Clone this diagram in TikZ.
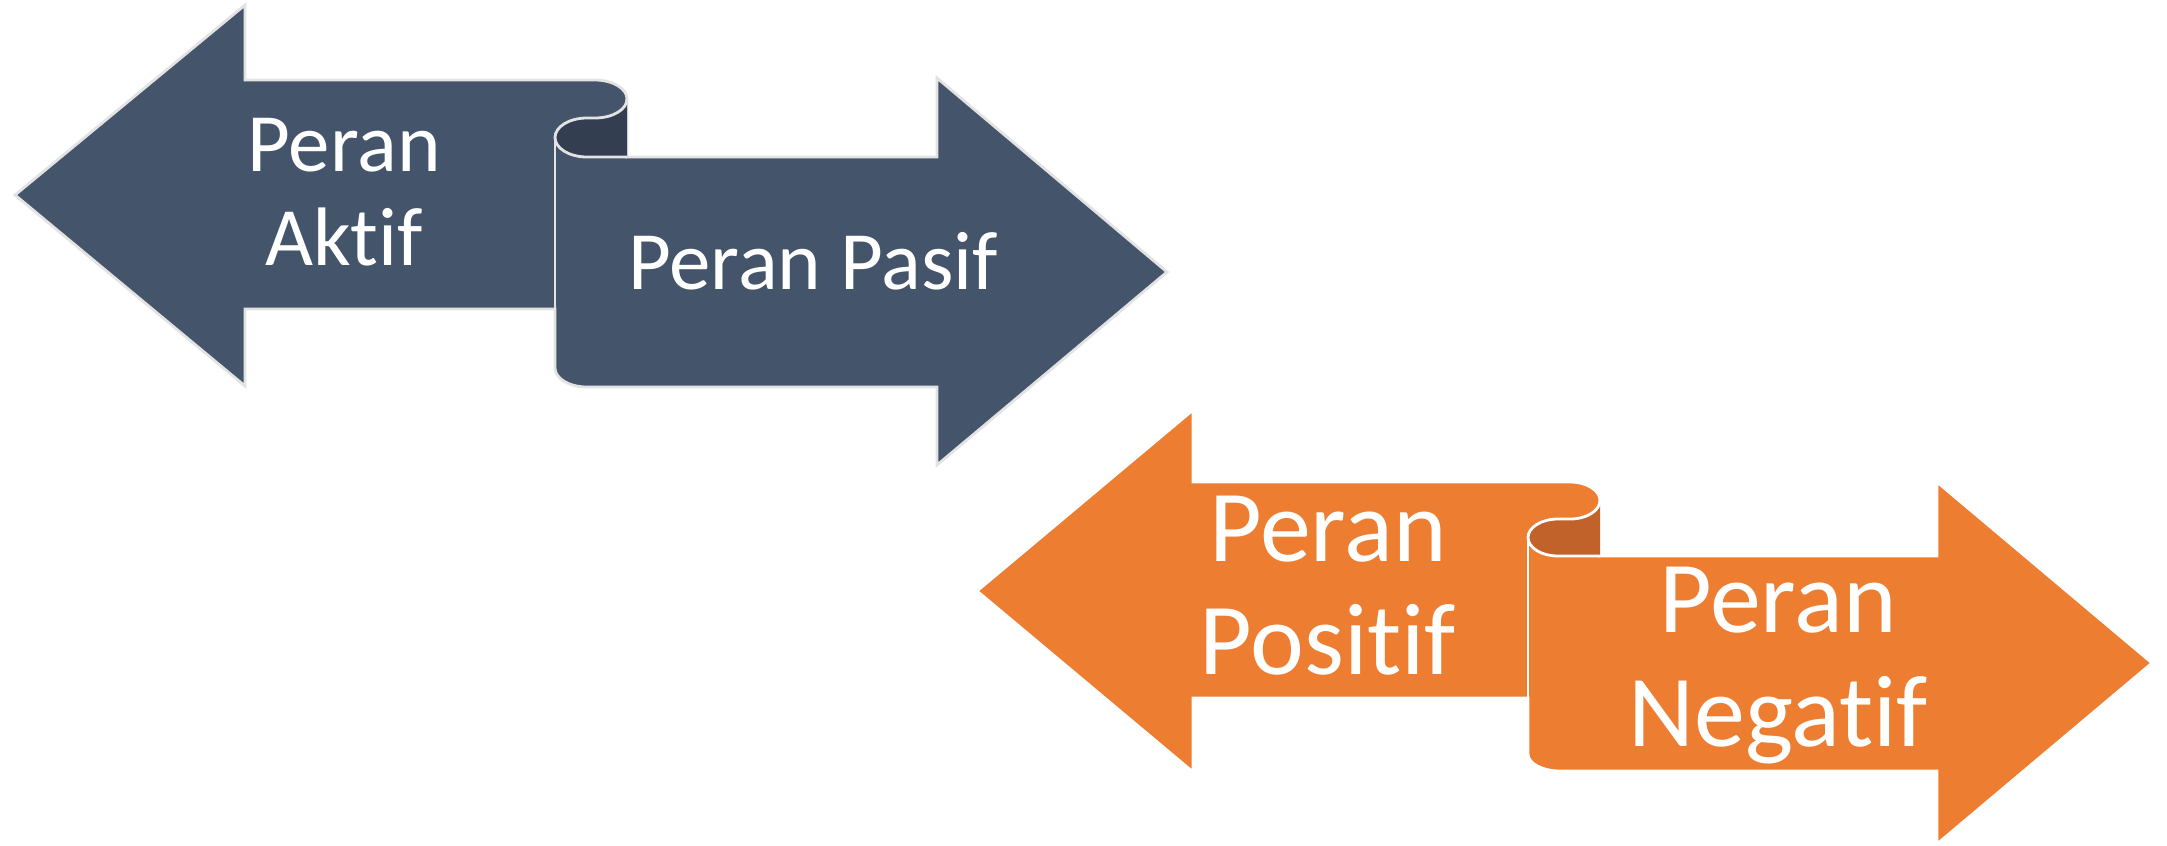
\documentclass[tikz,border=0pt]{standalone}
\usepackage{fontspec}
\setmainfont{Carlito}[Ligatures={NoCommon,NoRare,NoDiscretionary,NoContextual}]
\definecolor{bluegray}{HTML}{44546A}
\definecolor{bluedark}{HTML}{333F50}
\definecolor{bluerim}{HTML}{E3E3E3}
\definecolor{orng}{HTML}{ED7D31}
\definecolor{orngdark}{HTML}{C0622A}
\tikzset{
  blueshape/.style={fill=bluegray, draw=bluerim, line width=0.8pt},
  bluecurl/.style={fill=bluedark, draw=none},
  bluerimline/.style={draw=bluerim, line width=0.8pt},
  orngshape/.style={fill=orng, draw=white, line width=0.8pt},
  orngcurl/.style={fill=orngdark, draw=none},
  orngrimline/.style={draw=white, line width=0.8pt},
  smalltxt/.style={text=white, inner sep=0pt, anchor=base, font=\fontsize{23.6}{28}\selectfont},
  bigtxt/.style={text=white, inner sep=0pt, anchor=base, font=\fontsize{29}{35}\selectfont},
}
\begin{document}
\begin{tikzpicture}[x=0.01cm,y=-0.01cm]
\useasboundingbox (0,0) rectangle (2167,845);
% ---------------- top group ----------------
\path[blueshape] (15,195) -- (245,5) -- (245,80) -- (595,80)
  .. controls +(17.7,0) and +(0,-10.5) .. (627,99) -- (627,157) -- (937,157)
  -- (937,78) -- (1167,272) -- (937,465) -- (937,387) -- (587,387)
  .. controls +(-17.7,0) and +(0,10.5) .. (555,368) -- (555,309) -- (245,309)
  -- (245,386) -- cycle;
\path[bluecurl] (627,99) .. controls +(0,10.5) and +(17.7,0) .. (595,118) -- (587,118)
  .. controls +(-17.7,0) and +(0,-10.8) .. (555,137.5)
  .. controls +(0,10.8) and +(-17.7,0) .. (587,157) -- (627,157) -- cycle;
\path[bluerimline] (627,99) .. controls +(0,10.5) and +(17.7,0) .. (595,118) -- (587,118)
  .. controls +(-17.7,0) and +(0,-10.8) .. (555,137.5)
  .. controls +(0,10.8) and +(-17.7,0) .. (587,157) -- (627,157);
\path[bluerimline] (555,137.5) -- (555,368);
\node[smalltxt] (t1) at (344,171) {Peran};
\node[smalltxt] (t2) at (344,265) {Aktif};
\node[smalltxt] (t3) at (813,289) {Peran Pasif};
% ---------------- bottom group ----------------
\path[orngshape] (977,591) -- (1193,410) -- (1193,482) -- (1570,482)
  .. controls +(16.6,0) and +(0,-10.2) .. (1600,500.5) -- (1600,556) -- (1937,556)
  -- (1937,482) -- (2152,663) -- (1937,844) -- (1937,771) -- (1560,771)
  .. controls +(-17.7,0) and +(0,9.4) .. (1528,754) -- (1528,698) -- (1193,698)
  -- (1193,772) -- cycle;
\path[orngcurl] (1600,500.5) .. controls +(0,10.2) and +(16.6,0) .. (1570,519) -- (1558,519)
  .. controls +(-16.6,0) and +(0,-10.2) .. (1528,537.5)
  .. controls +(0,10.2) and +(-16.6,0) .. (1558,556) -- (1600,556) -- cycle;
\path[orngrimline] (1600,500.5) .. controls +(0,10.2) and +(16.6,0) .. (1570,519) -- (1558,519)
  .. controls +(-16.6,0) and +(0,-10.2) .. (1528,537.5)
  .. controls +(0,10.2) and +(-16.6,0) .. (1558,556) -- (1600,556);
\path[orngrimline] (1528,537.5) -- (1528,754);
\node[bigtxt] (t4) at (1328,561) {Peran};
\node[bigtxt] (t5) at (1328,674) {Positif};
\node[bigtxt] (t6) at (1778,632) {Peran};
\node[bigtxt] (t7) at (1778,746) {Negatif};
\end{tikzpicture}
\end{document}
